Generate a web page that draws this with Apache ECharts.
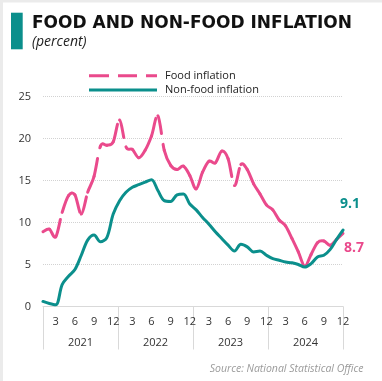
<!DOCTYPE html>
<html>
<head>
<meta charset="utf-8">
<script src="https://cdn.jsdelivr.net/npm/echarts@6/dist/echarts.min.js"></script>
<style>
  html, body { margin: 0; padding: 0; background: #ffffff; }
  #chart { width: 382px; height: 381px; }
</style>
</head>
<body>
<div id="chart"></div>
<script>
// Monthly inflation, Jan 2021 – Dec 2024 (percent)
const years = ['2021', '2022', '2023', '2024'];
const months = ['1', '2', '3', '4', '5', '6', '7', '8', '9', '10', '11', '12'];

const foodInflation = [
  8.9, 9.2, 8.3, 11.2, 13.2, 13.3, 11.0, 13.6, 15.5, 19.1, 19.2, 19.6,
  22.2, 19.0, 18.7, 17.7, 18.6, 20.3, 22.7, 18.6, 16.8, 16.3, 16.7, 15.6,
  14.0, 16.0, 17.3, 17.1, 18.5, 17.6, 14.4, 16.9, 16.3, 14.6, 13.4, 12.1,
  11.5, 10.3, 9.6, 8.1, 6.5, 4.8, 6.2, 7.6, 7.8, 7.3, 8.0, 8.7
];

const nonFoodInflation = [
  0.6, 0.35, 0.2, 2.6, 3.6, 4.4, 6.1, 7.9, 8.5, 7.7, 8.2, 11.0,
  12.6, 13.6, 14.2, 14.5, 14.8, 15.1, 13.8, 12.6, 12.5, 13.3, 13.4, 12.2,
  11.5, 10.6, 9.8, 8.9, 8.1, 7.3, 6.6, 7.4, 7.1, 6.5, 6.6, 6.1,
  5.7, 5.5, 5.3, 5.2, 5.0, 4.7, 5.1, 5.9, 6.1, 6.8, 8.0, 9.1
];

const yMin = 0, yMax = 25, yStep = 5;

const TEAL = '#0b8f8c';
const PINK = '#ea4a8c';
const AXIS_GRAY = '#d9d9d9';
const TEXT_DARK = '#333333';
const FONT = '"Open Sans", "Noto Sans", sans-serif';

// one category per month, keyed "year-month"
const categories = [];
years.forEach(y => months.forEach(m => categories.push(y + '-' + m)));

// Dashed food line: every month-to-month piece is its own smoothed curve,
// so the dash pattern starts fresh at each data point.
const SMOOTH = 1 / 6;
function renderFood(params, api) {
  const i = params.dataIndex;
  const n = foodInflation.length;
  const pt = k => {
    const j = Math.max(0, Math.min(n - 1, k));
    return api.coord([j, foodInflation[j]]);
  };
  const p1 = pt(i);
  const children = [];
  if (i < n - 1) {
    const p0 = pt(i - 1), p2 = pt(i + 1), p3 = pt(i + 2);
    children.push({
      type: 'bezierCurve',
      shape: {
        x1: p1[0], y1: p1[1], x2: p2[0], y2: p2[1],
        cpx1: p1[0] + (p2[0] - p0[0]) * SMOOTH,
        cpy1: p1[1] + (p2[1] - p0[1]) * SMOOTH,
        cpx2: p2[0] - (p3[0] - p1[0]) * SMOOTH,
        cpy2: p2[1] - (p3[1] - p1[1]) * SMOOTH
      },
      style: {
        stroke: PINK, fill: 'none', lineWidth: 3,
        lineDash: [18, 11], lineCap: 'round'
      }
    });
  } else {
    // value label at the last month
    children.push({
      type: 'text',
      x: p1[0] + 1,
      y: p1[1] + 15,
      style: {
        text: foodInflation[i].toFixed(1),
        fill: PINK,
        font: 'bold 14px ' + FONT,
        textAlign: 'left', align: 'left',
        textVerticalAlign: 'middle', verticalAlign: 'middle'
      }
    });
  }
  return { type: 'group', children };
}

const chart = echarts.init(document.getElementById('chart'), null, { renderer: 'canvas' });

chart.setOption({
  animation: false,
  backgroundColor: '#ffffff',
  graphic: [
    { type: 'rect', left: 0, top: 0, shape: { width: 3, height: 381 }, style: { fill: '#ebebeb' } },
    { type: 'rect', left: 0, top: 0, shape: { width: 382, height: 2.5 }, style: { fill: '#ebebeb' } },
    { type: 'rect', left: 11, top: 12.7, shape: { width: 11.7, height: 36.6 }, style: { fill: TEAL } },
    {
      type: 'text', x: 32, y: 23.8,
      style: {
        text: 'FOOD AND NON-FOOD INFLATION', fill: '#111111',
        font: 'bold 17px "DejaVu Sans", sans-serif',
        textVerticalAlign: 'middle', verticalAlign: 'middle'
      }
    },
    {
      type: 'text', x: 32, y: 42.5,
      style: {
        text: '(percent)', fill: '#222222',
        font: 'italic 14px ' + FONT,
        textVerticalAlign: 'middle', verticalAlign: 'middle'
      }
    },
    {
      type: 'text', x: 363.5, y: 369,
      style: {
        text: 'Source: National Statistical Office', fill: '#9a9a9a',
        font: 'italic 10.5px ' + FONT,
        textAlign: 'right', align: 'right',
        textVerticalAlign: 'middle', verticalAlign: 'middle'
      }
    }
  ],
  legend: {
    orient: 'vertical',
    left: 89,
    top: 68.7,
    padding: 0,
    itemWidth: 68,
    itemHeight: 3,
    itemGap: 0.3,
    textStyle: { fontFamily: FONT, fontSize: 11, color: '#222222', lineHeight: 14, padding: [0, 0, 0, 3] },
    data: [
      { name: 'Food inflation', icon: 'path://M0,0h20v3h-20zM29,0h19v3h-19zM57,0h11v3h-11z' },
      { name: 'Non-food inflation', icon: 'path://M0,0h68v3h-68z' }
    ]
  },
  grid: { left: 43, right: 39, top: 96.5, bottom: 74.5, outerBoundsMode: 'none' },
  xAxis: [
    {
      type: 'category',
      data: categories,
      boundaryGap: false,
      axisLine: { lineStyle: { color: AXIS_GRAY, width: 1 } },
      axisTick: { show: false },
      splitLine: { show: false },
      axisLabel: {
        interval: (index) => (index + 1) % 3 === 0,
        formatter: (v) => v.split('-')[1],
        margin: 10,
        color: TEXT_DARK,
        fontFamily: FONT,
        fontSize: 11
      }
    },
    {
      type: 'category',
      data: years,
      boundaryGap: true,
      position: 'bottom',
      axisLine: { show: false },
      axisTick: { show: true, interval: 0, length: 43, lineStyle: { color: AXIS_GRAY, width: 1 } },
      splitLine: { show: false },
      axisLabel: { margin: 31, color: TEXT_DARK, fontFamily: FONT, fontSize: 11 }
    }
  ],
  yAxis: {
    type: 'value',
    min: yMin,
    max: yMax,
    interval: yStep,
    axisLine: { show: false },
    axisTick: { show: false },
    axisLabel: { margin: 12, color: TEXT_DARK, fontFamily: FONT, fontSize: 11 },
    splitLine: { lineStyle: { type: 'dotted', color: '#d2d2d2', width: 1 } }
  },
  series: [
    {
      name: 'Food inflation',
      type: 'custom',
      coordinateSystem: 'cartesian2d',
      xAxisIndex: 0,
      data: foodInflation.map((v, i) => [i, v]),
      encode: { x: 0, y: 1 },
      itemStyle: { color: PINK },
      renderItem: renderFood,
      z: 2
    },
    {
      name: 'Non-food inflation',
      type: 'line',
      xAxisIndex: 0,
      data: nonFoodInflation,
      smooth: 0.33,
      symbol: 'none',
      lineStyle: { color: TEAL, width: 3, cap: 'round', join: 'round' },
      itemStyle: { color: TEAL },
      endLabel: {
        show: true,
        formatter: (p) => Number(p.value).toFixed(1),
        distance: 0,
        offset: [-3, -26],
        align: 'left',
        verticalAlign: 'middle',
        color: TEAL,
        fontFamily: FONT,
        fontWeight: 'bold',
        fontSize: 14
      },
      z: 3
    }
  ]
});
</script>
</body>
</html>
